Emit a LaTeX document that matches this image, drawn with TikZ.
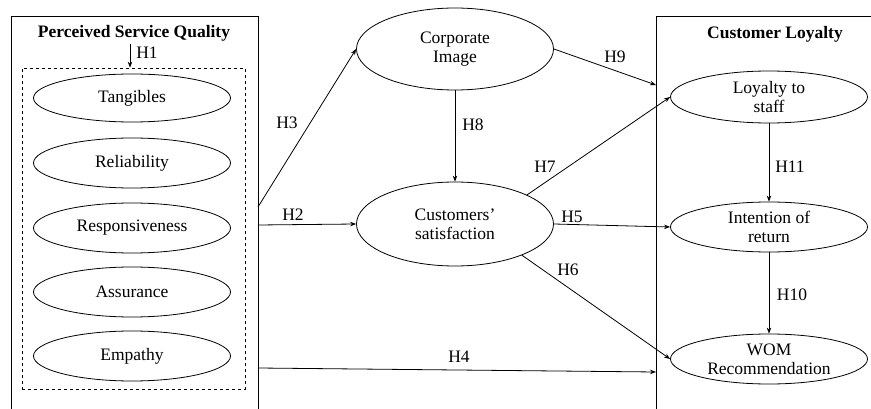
\documentclass[tikz,border=0pt]{standalone}
\usepackage{fontspec}
\setmainfont{Liberation Serif}
\usetikzlibrary{shapes.geometric,arrows.meta}
\begin{document}
\begin{tikzpicture}[x=1pt,y=-1pt,
  every node/.style={font=\fontsize{17.5}{19}\selectfont},
  oval/.style={draw,ellipse,line width=0.8pt,inner sep=0pt,minimum width=197pt,align=center},
  arr/.style={line width=0.8pt,-{Stealth[length=6pt,width=4.5pt]}},
  plain/.style={line width=0.8pt},
  hlab/.style={inner sep=0pt},
  ttl/.style={font=\fontsize{17.5}{19}\selectfont\bfseries,inner sep=0pt}]
\useasboundingbox (0,0) rectangle (871,409);
% frames
\draw[plain] (11,412) -- (11,16) -- (258,16) -- (258,412);
\draw[plain] (656,412) -- (656,16) -- (875,16);
\node[ttl] (psq) at (134,33) {Perceived Service Quality};
\node[ttl] (cl) at (775,34) {Customer Loyalty};
\node[draw,dashed,line width=0.7pt,minimum width=223pt,minimum height=321pt,inner sep=0pt] (dbox) at (133.5,228.5) {};
% left ellipses
\node[oval,minimum height=48pt] (tang) at (132,98) {Tangibles};
\node[oval,minimum height=50pt] (reli) at (132,163) {Reliability};
\node[oval,minimum height=50pt] (resp) at (132,228) {Responsiveness};
\node[oval,minimum height=50pt] (assu) at (132,292) {Assurance};
\node[oval,minimum height=50pt] (empa) at (132,356) {Empathy};
% middle
\node[oval,minimum height=82pt] (corp) at (455,49) {Corporate\\Image};
\node[oval,minimum height=84pt] (sat) at (455,224) {Customers'\\satisfaction};
% right
\node[oval,minimum height=52pt] (loyal) at (769,97) {Loyalty to\\staff};
\node[oval,minimum height=50pt] (inten) at (769,227) {Intention of\\return};
\node[oval,minimum height=50pt] (wom) at (769,359) {WOM\\Recommendation};
% coordinates on frames
\coordinate (h1s) at (130,44);
\coordinate (l3) at (258,207);
\coordinate (l2) at (258,225);
\coordinate (l4) at (258,368);
\coordinate (r9) at (656,85);
\coordinate (r4) at (656,372);
% arrows
\draw[arr] (h1s) -- (h1s |- dbox.north);
\draw[arr] (l3) -- (corp.west);
\draw[arr] (l2) -- (sat.west);
\draw[arr] (corp.south) -- (sat.north);
\draw[arr] (corp.east) -- (r9);
\draw[arr] (sat.22) -- (loyal.west);
\draw[arr] (sat.east) -- (inten.west);
\draw[arr] (sat.-25) -- (wom.west);
\draw[arr] (l4) -- (r4);
\draw[arr] (loyal.south) -- (inten.north);
\draw[arr] (inten.south) -- (wom.north);
% labels
\node[hlab] (lh1) at (147,53) {H1};
\node[hlab] (lh3) at (287,123) {H3};
\node[hlab] (lh2) at (293,215) {H2};
\node[hlab] (lh8) at (473,125) {H8};
\node[hlab] (lh9) at (615,57) {H9};
\node[hlab] (lh7) at (545,167) {H7};
\node[hlab] (lh5) at (572,217) {H5};
\node[hlab] (lh6) at (568,270) {H6};
\node[hlab] (lh4) at (459,357) {H4};
\node[hlab] (lh11) at (790,167) {H11};
\node[hlab] (lh10) at (792,295) {H10};
\end{tikzpicture}
\end{document}
